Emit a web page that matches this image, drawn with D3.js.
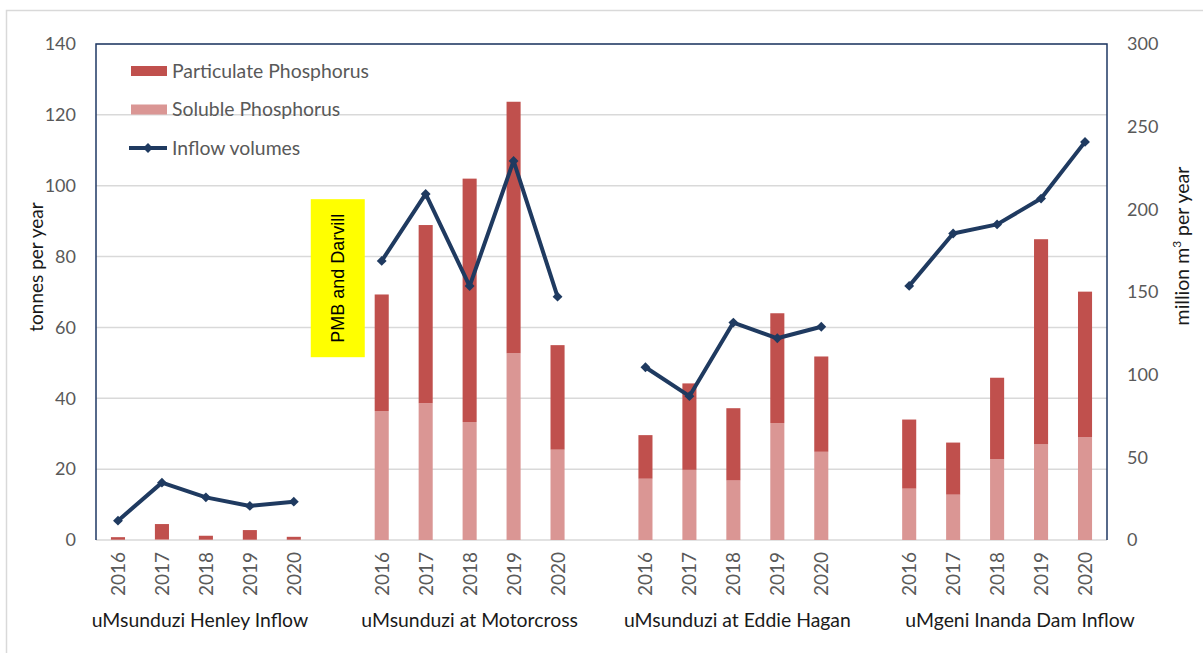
<!DOCTYPE html>
<html>
<head>
<meta charset="utf-8">
<script src="https://cdn.jsdelivr.net/npm/d3@7"></script>
<style>
  body { margin: 0; background: #fff; }
  svg { display: block; font-family: Lato, "Open Sans", sans-serif; }
</style>
</head>
<body>
<div id="holder"></div>
<script>
const stations = ["uMsunduzi Henley Inflow", "uMsunduzi at Motorcross", "uMsunduzi at Eddie Hagan", "uMgeni Inanda Dam Inflow"];
const years = ["2016", "2017", "2018", "2019", "2020"];

// tonnes per year, one row per station
const soluble = [
    [0.1, 0.2, 0.1, 0.1, 0.1],
    [36.4, 38.6, 33.3, 52.7, 25.5],
    [17.3, 19.8, 16.8, 33.0, 24.9],
    [14.5, 12.8, 22.8, 27.0, 29.0]
];
const particulate = [
    [0.7, 4.3, 1.1, 2.7, 0.8],
    [32.9, 50.3, 68.7, 71.0, 29.5],
    [12.3, 24.4, 20.4, 31.0, 26.9],
    [19.5, 14.7, 23.0, 57.9, 41.1]
];
// million m3 per year
const inflow = [
    [11.7, 34.7, 25.8, 20.6, 23.2],
    [168.8, 209.3, 153.6, 229.3, 147.2],
    [104.5, 87.0, 131.5, 122.0, 129.0],
    [153.7, 185.4, 190.9, 206.5, 240.8]
];

const leftTicks = [0, 20, 40, 60, 80, 100, 120, 140];
const rightTicks = [0, 50, 100, 150, 200, 250, 300];
const seriesNames = ["Particulate Phosphorus", "Soluble Phosphorus", "Inflow volumes"];
const note = "PMB and Darvill";

const w = 1203, h = 653;
const m = {left: 96, right: 96, top: 44, bottom: 113};
const colors = {part: "#C0504D", sol: "#DA9694", line: "#1F3A60", axis: "#1F3864", grid: "#D9D9D9", tick: "#595959"};
const labelNudge = [-6, 0, 4, 23];

// slot keys: 5 years per station, one empty slot between stations
const slots = [];
stations.forEach((s, i) => {
    if (i > 0) slots.push("gap" + i);
    years.forEach(y => slots.push(i + "-" + y));
});

const x = d3.scaleBand().domain(slots).range([m.left, w - m.right]).paddingInner(0.68).paddingOuter(0.34);
const yL = d3.scaleLinear().domain([0, 140]).range([h - m.bottom, m.top]);
const yR = d3.scaleLinear().domain([0, 300]).range([h - m.bottom, m.top]);
const cx = k => x(k) + x.bandwidth() / 2;

const rows = [];
stations.forEach((s, i) => years.forEach((y, j) => rows.push({
    key: i + "-" + y, station: i, year: y,
    sol: soluble[i][j], part: particulate[i][j], flow: inflow[i][j]
})));

const svg = d3.select('#holder').append('svg').attr('width', w).attr('height', h);

svg.append('rect')
    .attr('x', 6.5).attr('y', 10.5).attr('width', w + 10).attr('height', h + 10)
    .attr('fill', 'none').attr('stroke', colors.grid).attr('stroke-width', 1.5);

// gridlines
svg.append('g').selectAll('line').data(leftTicks).join('line')
    .attr('x1', m.left).attr('x2', w - m.right)
    .attr('y1', d => yL(d)).attr('y2', d => yL(d))
    .attr('stroke', colors.grid).attr('stroke-width', 1.5);

// stacked bars
const stack = d3.stack().keys(["sol", "part"])(rows);
svg.append('g').selectAll('g').data(stack).join('g')
    .attr('fill', d => d.key === "sol" ? colors.sol : colors.part)
    .selectAll('rect').data(d => d).join('rect')
    .attr('x', d => x(d.data.key))
    .attr('width', x.bandwidth())
    .attr('y', d => yL(d[1]))
    .attr('height', d => yL(d[0]) - yL(d[1]));

// inflow lines, one per station
const line = d3.line().x(d => cx(d.key)).y(d => yR(d.flow));
const diamond = d3.symbol().type(d3.symbolDiamond2 || d3.symbolDiamond).size(62);
const lines = svg.append('g');
stations.forEach((s, i) => {
    const pts = rows.filter(r => r.station === i);
    lines.append('path').datum(pts)
        .attr('d', line).attr('fill', 'none')
        .attr('stroke', colors.line).attr('stroke-width', 4).attr('stroke-linejoin', 'round');
    lines.selectAll('.mk' + i).data(pts).join('path')
        .attr('class', 'mk' + i)
        .attr('d', diamond)
        .attr('transform', d => `translate(${cx(d.key)},${yR(d.flow)})`)
        .attr('fill', colors.line);
});

// frame: left, top, right in navy
svg.append('path')
    .attr('d', `M${m.left},${yL(0)}V${m.top}H${w - m.right}V${yL(0)}`)
    .attr('fill', 'none').attr('stroke', colors.axis).attr('stroke-width', 1.5);

// axes labels
const leftAxis = d3.axisLeft(yL).tickValues(leftTicks).tickSize(0).tickPadding(20);
const rightAxis = d3.axisRight(yR).tickValues(rightTicks).tickSize(0).tickPadding(20);
svg.append('g').attr('transform', `translate(${m.left},0)`).call(leftAxis)
    .call(g => g.select('.domain').remove());
svg.append('g').attr('transform', `translate(${w - m.right},0)`).call(rightAxis)
    .call(g => g.select('.domain').remove());
svg.selectAll('.tick text')
    .attr('fill', colors.tick).style('font-size', '18px').style('font-family', 'Lato, sans-serif');

// year labels
svg.append('g').selectAll('text').data(rows).join('text')
    .attr('transform', d => `translate(${cx(d.key) + 7},${yL(0) + 12}) rotate(-90)`)
    .attr('text-anchor', 'end')
    .attr('fill', colors.tick).style('font-size', '19px')
    .text(d => d.year);

// station labels
svg.append('g').selectAll('text').data(stations).join('text')
    .attr('x', (d, i) => cx(i + "-2018") + labelNudge[i])
    .attr('y', 627)
    .attr('text-anchor', 'middle')
    .attr('fill', '#1a1a1a').style('font-size', '19.4px')
    .text(d => d);

// axis titles
svg.append('text')
    .attr('transform', `translate(43,267) rotate(-90)`)
    .attr('text-anchor', 'middle').attr('fill', '#1a1a1a').style('font-size', '19px')
    .text('tonnes per year');
svg.append('text')
    .attr('transform', `translate(1189,246) rotate(-90)`)
    .attr('text-anchor', 'middle').attr('fill', '#1a1a1a').style('font-size', '19.5px')
    .call(t => {
        t.append('tspan').text('million m');
        t.append('tspan').attr('dy', -8).style('font-size', '12px').text('3');
        t.append('tspan').attr('dy', 8).text(' per year');
    });

// note box in the gap after the first station
const noteX = cx("gap1");
svg.append('rect')
    .attr('x', noteX - 27).attr('width', 54)
    .attr('y', yL(96.2)).attr('height', yL(51.6) - yL(96.2))
    .attr('fill', '#FFFF00');
svg.append('text')
    .attr('transform', `translate(${noteX + 6},${(yL(96.2) + yL(51.6)) / 2}) rotate(-90)`)
    .attr('text-anchor', 'middle')
    .style('font-family', '"Liberation Sans", Arial, sans-serif').style('font-size', '18px')
    .attr('fill', '#000')
    .text(note);

// legend
const lg = svg.append('g').attr('transform', 'translate(131,71)');
const items = lg.selectAll('g').data(seriesNames).join('g')
    .attr('transform', (d, i) => `translate(0,${i * 38.5})`);
items.filter((d, i) => i < 2).append('rect')
    .attr('x', 0).attr('y', -5).attr('width', 36).attr('height', 10)
    .attr('fill', (d, i) => i === 0 ? colors.part : colors.sol);
items.filter((d, i) => i === 2).call(g => {
    g.append('line').attr('x1', -2).attr('x2', 36).attr('stroke', colors.line).attr('stroke-width', 4);
    g.append('path').attr('d', diamond).attr('transform', 'translate(17,0)').attr('fill', colors.line);
});
items.append('text')
    .attr('x', 41).attr('dy', '0.35em')
    .attr('fill', colors.tick).style('font-size', '19.4px')
    .text(d => d);
</script>
</body>
</html>
